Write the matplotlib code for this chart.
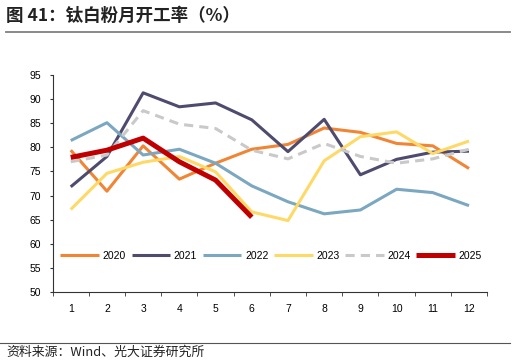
import matplotlib
matplotlib.use("Agg")
import matplotlib.pyplot as plt
from matplotlib.lines import Line2D

plt.rcParams['font.family'] = ['Liberation Sans', 'Noto Sans CJK SC', 'DejaVu Sans']

months = ["1", "2", "3", "4", "5", "6", "7", "8", "9", "10", "11", "12"]
y2020 = [79.4, 70.9, 80.3, 73.4, 76.7, 79.6, 80.6, 84.0, 83.1, 80.8, 80.3, 75.6]
y2021 = [71.8, 78.1, 91.3, 88.4, 89.2, 85.7, 79.1, 85.8, 74.3, 77.5, 79.0, 79.2]
y2022 = [81.4, 85.1, 78.4, 79.6, 76.7, 72.0, 68.7, 66.2, 67.0, 71.3, 70.6, 67.9]
y2023 = [67.1, 74.6, 76.9, 78.1, 74.9, 66.6, 64.8, 77.2, 82.2, 83.2, 78.7, 81.3]
y2024 = [77.0, 78.4, 87.6, 84.8, 83.9, 79.4, 77.6, 80.8, 78.1, 76.7, 77.6, 79.6]
y2025 = [77.9, 79.4, 81.9, 77.0, 73.2, 65.5]
yticks = [50, 55, 60, 65, 70, 75, 80, 85, 90, 95]

fig = plt.figure(figsize=(5.16, 3.64), dpi=100)
ax = fig.add_axes([0.102, 0.198, 0.842, 0.596])

x = list(range(len(months)))
series = [
    ("2020", y2020, "#F08536", 2.2, "-"),
    ("2021", y2021, "#4E4B6E", 2.2, "-"),
    ("2022", y2022, "#7BA8C0", 2.2, "-"),
    ("2023", y2023, "#FFD966", 2.2, "-"),
    ("2024", y2024, "#C9C9C9", 2.2, (0, (3, 2))),
    ("2025", y2025, "#C00000", 3.6, "-"),
]
for name, vals, col, lw, ls in series:
    ax.plot(x[:len(vals)], vals, color=col, lw=lw, ls=ls, label=name,
            solid_capstyle='butt', dash_capstyle='butt')

ax.set_xlim(-0.5, 11.5)
ax.set_ylim(50, 95)
ax.set_yticks(yticks)
ax.set_yticklabels([str(v) for v in yticks], fontsize=7.5)
ax.set_xticks(x)
ax.set_xticklabels(months, fontsize=7.5)
ax.set_xticks([i + 0.5 for i in range(-1, 12)], minor=True)
ax.tick_params(axis='x', which='major', length=0, pad=9)
ax.tick_params(axis='x', which='minor', length=3, direction='out', color='#333333')
ax.tick_params(axis='y', length=2.5, direction='out', pad=6, color='#333333')
for s in ['top', 'right']:
    ax.spines[s].set_visible(False)
for s in ['left', 'bottom']:
    ax.spines[s].set_color('#333333')
    ax.spines[s].set_linewidth(0.8)

leg = ax.legend(loc='center', bbox_to_anchor=(0.503, 0.167), ncol=6, frameon=False,
                fontsize=7.5, handlelength=3.7, handletextpad=0.35, columnspacing=0.55)

fig.text(0.012, 0.957, "图 41：钛白粉月开工率（%）", fontsize=12.6, fontweight='bold',
         family=['Noto Sans CJK SC', 'DejaVu Sans'], va='center', ha='left', color='#222222')
fig.add_artist(Line2D([0.012, 0.988], [0.913, 0.913], color='#808080', lw=1.3,
                      transform=fig.transFigure))
fig.add_artist(Line2D([0.0, 0.988], [0.057, 0.057], color='#555555', lw=0.8,
                      transform=fig.transFigure))
fig.text(0.012, 0.032, "资料来源：Wind、光大证券研究所", fontsize=9.3,
         family=['Noto Sans CJK SC', 'DejaVu Sans'], va='center', ha='left', color='#222222')

fig.savefig("out.png", dpi=100)
